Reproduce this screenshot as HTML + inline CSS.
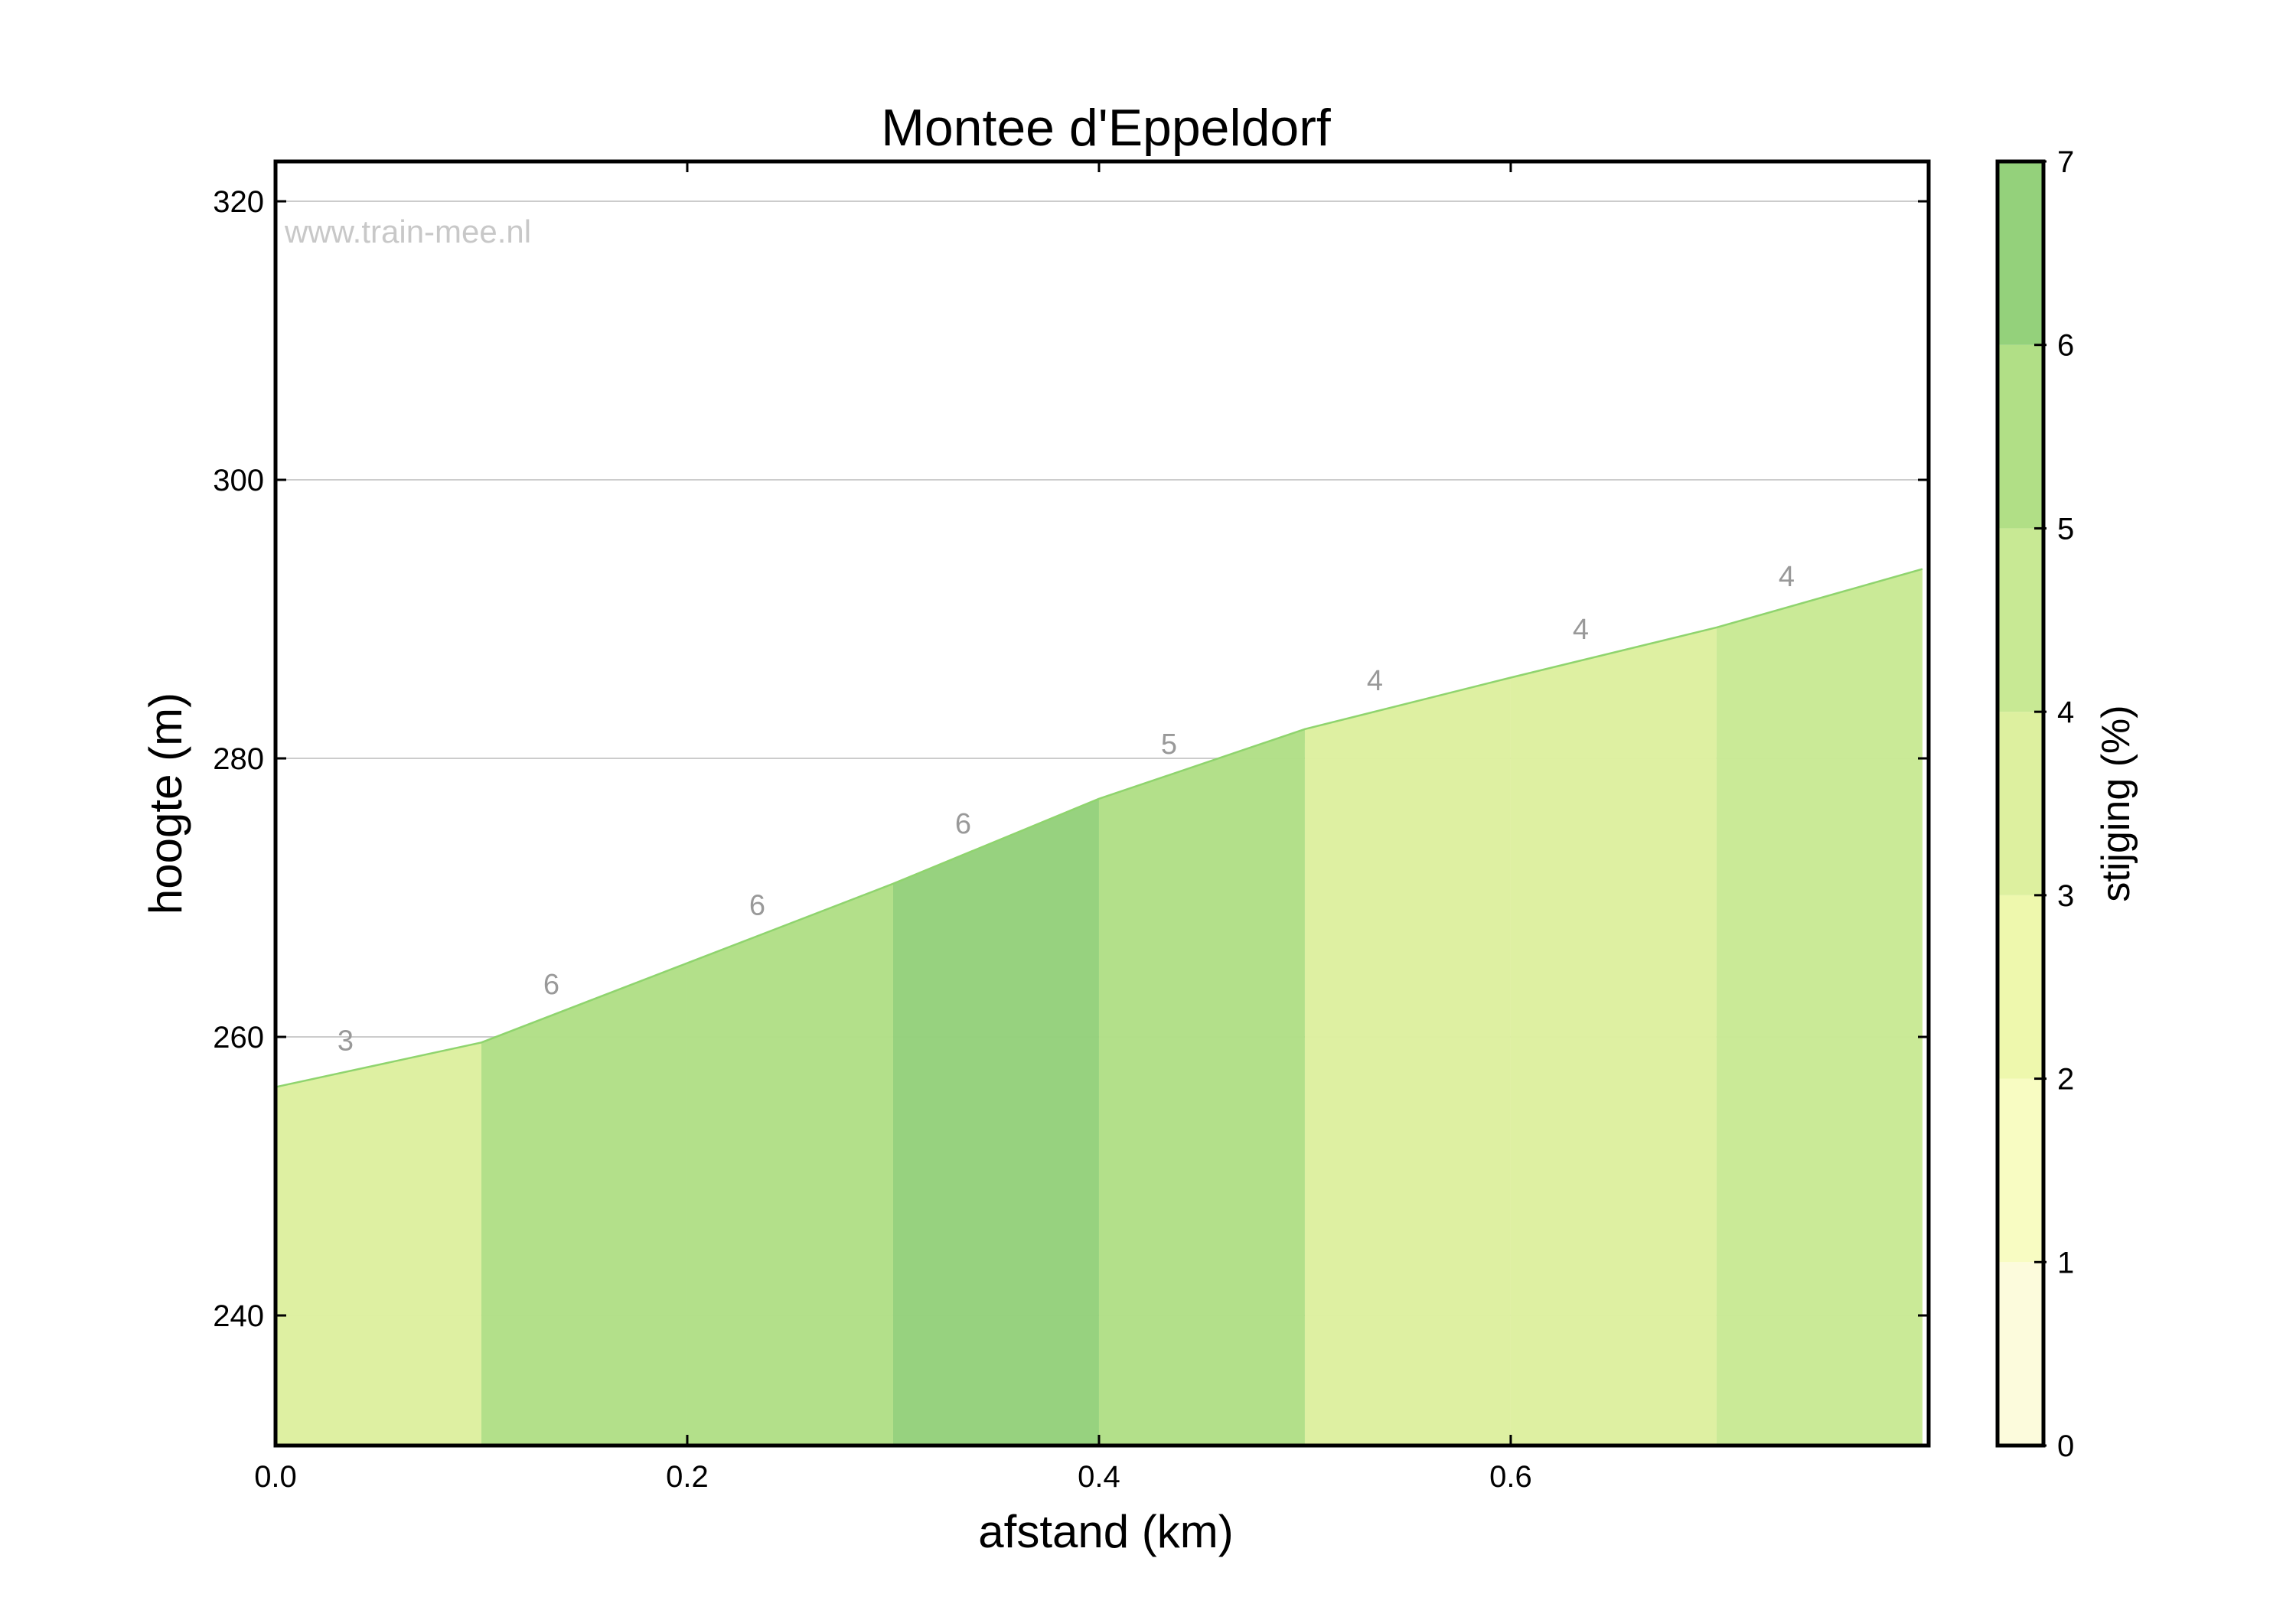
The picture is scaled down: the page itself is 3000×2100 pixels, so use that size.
<!DOCTYPE html>
<html><head><meta charset="utf-8"><style>
html,body{margin:0;padding:0;background:#fff;}
svg{display:block;font-family:"Liberation Sans",Arial,sans-serif;}
</style></head><body>
<svg id="chart" width="3000" height="2100" viewBox="0 0 3000 2100" xmlns="http://www.w3.org/2000/svg">
<text x="1445" y="190" font-size="68" text-anchor="middle" fill="#000">Montee d'Eppeldorf</text>
<g id="plot"></g>
<text x="1445" y="2022" font-size="60" text-anchor="middle">afstand (km)</text>
<text transform="translate(237,1050) rotate(-90)" font-size="60" text-anchor="middle">hoogte (m)</text>
<text transform="translate(2782,1050) rotate(-90)" font-size="52" text-anchor="middle">stijging (%)</text>
<text x="372" y="317" font-size="42" fill="#c8c8c8">www.train-mee.nl</text>
</svg>
<script>
const distances = [0, 0.1, 0.2, 0.3, 0.4, 0.5, 0.6, 0.7, 0.8];
const elevations = [256.4, 259.6, 265.3, 271.0, 277.1, 282.1, 285.8, 289.4, 293.6];
const grades = [3.2, 5.7, 5.7, 6.1, 5.0, 3.7, 3.6, 4.2];
const gradeLabels = ["3", "6", "6", "6", "5", "4", "4", "4"];
const xTicks = [0.0, 0.2, 0.4, 0.6];
const xTickLabels = ["0.0", "0.2", "0.4", "0.6"];
const yTicks = [240, 260, 280, 300, 320];
const cbTicks = [0, 1, 2, 3, 4, 5, 6, 7];
const bandColors = ["#fcfbdc", "#f8fcc2", "#eef8ad", "#ddf09f", "#c8e994", "#b1df86", "#94d17b"];

const L = 360, R = 2520, T = 211, B = 1889;
const xMin = 0, xMax = 0.803, yMin = 230.66, yMax = 322.86;
const xs = v => L + (v - xMin) / (xMax - xMin) * (R - L);
const ys = v => B - (v - yMin) / (yMax - yMin) * (B - T);
const NS = "http://www.w3.org/2000/svg";
const g = document.getElementById('plot');
function mk(tag, attrs, parent) {
  const e = document.createElementNS(NS, tag);
  for (const k in attrs) e.setAttribute(k, attrs[k]);
  (parent || g).appendChild(e);
  return e;
}
// grid
yTicks.forEach(t => {
  const l = mk('line', {x1: L, x2: R, y1: ys(t), y2: ys(t), stroke: '#cccccc', 'stroke-width': 2});
  
  
});
// segments
const colorFor = gr => bandColors[Math.max(0, Math.min(6, Math.floor(gr)))];
for (let i = 0; i < grades.length; i++) {
  const x0 = xs(distances[i]), x1 = xs(Math.min(distances[i + 1], xMax));
  const e1 = elevations[i] + (elevations[i + 1] - elevations[i]) * ((Math.min(distances[i + 1], xMax) - distances[i]) / (distances[i + 1] - distances[i]));
  const p = mk('polygon', {points: `${x0},${B} ${x0},${ys(elevations[i])} ${x1},${ys(e1)} ${x1},${B}`, fill: colorFor(grades[i]), 'fill-opacity': 0.97});
  
  
  const lx = distances[i] + 0.034;
  const ly = elevations[i] + (elevations[i + 1] - elevations[i]) * 0.34;
  const t = mk('text', {x: xs(lx), y: ys(ly) - 28, 'font-size': 38, fill: '#999', 'text-anchor': 'middle'});
  t.textContent = gradeLabels[i];
  
  
}
// profile line
const pts = distances.map((d, i) => `${xs(Math.min(d, xMax))},${ys(elevations[i])}`).join(' ');
const pl = mk('polyline', {points: pts, fill: 'none', stroke: '#8fd46e', 'stroke-width': 2.5});


// frame
const fr = mk('rect', {x: L, y: T, width: R - L, height: B - T, fill: 'none', stroke: '#000', 'stroke-width': 5});


// ticks
xTicks.forEach((t, i) => {
  mk('line', {x1: xs(t), x2: xs(t), y1: B, y2: B - 14, stroke: '#000', 'stroke-width': 3});
  mk('line', {x1: xs(t), x2: xs(t), y1: T, y2: T + 14, stroke: '#000', 'stroke-width': 3});
  const tx = mk('text', {x: xs(t), y: 1943, 'font-size': 40, 'text-anchor': 'middle'});
  tx.textContent = xTickLabels[i];
  
  
});
yTicks.forEach(t => {
  mk('line', {x1: L, x2: L + 14, y1: ys(t), y2: ys(t), stroke: '#000', 'stroke-width': 3});
  mk('line', {x1: R, x2: R - 14, y1: ys(t), y2: ys(t), stroke: '#000', 'stroke-width': 3});
  const tx = mk('text', {x: 345, y: ys(t) + 14, 'font-size': 40, 'text-anchor': 'end'});
  tx.textContent = t;
  
  
});
// colorbar
const CL = 2610, CR = 2670;
const cy = v => B - v / 7 * (B - T);
bandColors.forEach((c, i) => {
  const r = mk('rect', {x: CL, y: cy(i + 1), width: CR - CL, height: cy(i) - cy(i + 1), fill: c});
  
  
});
const cf = mk('rect', {x: CL, y: T, width: CR - CL, height: B - T, fill: 'none', stroke: '#000', 'stroke-width': 5});


cbTicks.forEach(t => {
  mk('line', {x1: CR - 12, x2: CR + 4, y1: cy(t), y2: cy(t), stroke: '#000', 'stroke-width': 3});
  const tx = mk('text', {x: 2688, y: cy(t) + 14, 'font-size': 40});
  tx.textContent = t;
  
  
});
</script>
</body></html>
